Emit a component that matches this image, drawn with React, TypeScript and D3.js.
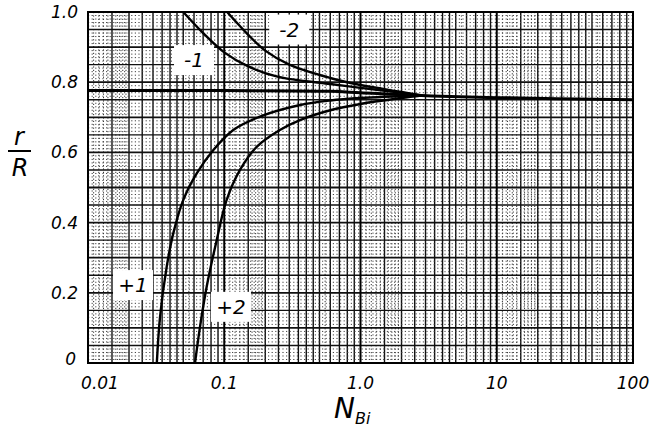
import React, { useRef, useEffect } from 'react';
import * as d3 from 'd3';

// N_Bi values on the x axis (log), r/R on the y axis
const xTicks = [0.01, 0.1, 1, 10, 100];
const xTickLabels = ['0.01', '0.1', '1.0', '10', '100'];
const yTicks = [0, 0.2, 0.4, 0.6, 0.8, 1.0];
const yTickLabels = ['0', '0.2', '0.4', '0.6', '0.8', '1.0'];

const flatCurve: [number, number][] = [
  [0.01, 0.776], [0.1, 0.776], [0.6, 0.774], [1.0, 0.77], [2.8, 0.762], [10, 0.756], [100, 0.75],
];
const minus1: [number, number][] = [
  [0.05, 1.0], [0.07, 0.94], [0.1, 0.885], [0.15, 0.845], [0.25, 0.815], [0.6, 0.795], [1.0, 0.784], [2.0, 0.77], [2.8, 0.762],
];
const minus2: [number, number][] = [
  [0.105, 1.0], [0.15, 0.935], [0.2, 0.89], [0.3, 0.85], [0.6, 0.812], [1.0, 0.792], [2.0, 0.772], [2.8, 0.762],
];
const plus1: [number, number][] = [
  [0.032, 0], [0.0338, 0.132], [0.0378, 0.274], [0.0423, 0.37], [0.05, 0.464], [0.0628, 0.54], [0.0832, 0.607],
  [0.1165, 0.664], [0.183, 0.702], [0.36, 0.735], [0.6, 0.748], [1.0, 0.755], [2.8, 0.762],
];
const plus2: [number, number][] = [
  [0.061, 0], [0.0664, 0.103], [0.0743, 0.217], [0.088, 0.35], [0.104, 0.464], [0.1305, 0.55], [0.173, 0.616],
  [0.256, 0.664], [0.36, 0.692], [0.6, 0.72], [1.0, 0.738], [2.0, 0.755], [2.8, 0.762],
];
const curveLabels = ['-1', '-2', '+1', '+2'];
const curveLabelPos: [number, number][] = [[0.06, 0.863], [0.3, 0.95], [0.0214, 0.222], [0.112, 0.16]];

function App() {
  const ref = useRef<SVGSVGElement>(null);

  useEffect(() => {
    const svg = d3.select(ref.current);
    svg.selectAll('*').remove();
    const margin = { top: 12, right: 25, bottom: 71, left: 88 };
    const width = 658 - margin.left - margin.right;
    const height = 434 - margin.top - margin.bottom;

    const x = d3.scaleLog().domain([0.01, 100]).range([0, width]);
    const y = d3.scaleLinear().domain([0, 1]).range([height, 0]);

    const g = svg.append('g').attr('transform', `translate(${margin.left},${margin.top})`);
    const grid = g.append('g');

    // graph paper: vertical lines
    const decades = [0.01, 0.1, 1, 10];
    const solidMult = [1.5, 2, 2.5, 3, 3.5, 4, 4.5, 5, 6, 7, 8, 9];
    const dotMult = [1.1, 1.2, 1.3, 1.4, 1.6, 1.7, 1.8, 1.9, 5.5];
    decades.forEach((d) => {
      dotMult.forEach((m) => {
        grid.append('line').attr('x1', x(d * m)).attr('x2', x(d * m)).attr('y1', 0).attr('y2', height)
          .attr('stroke', '#333').attr('stroke-width', 1).attr('stroke-dasharray', '1.2,2.2');
      });
      solidMult.forEach((m) => {
        grid.append('line').attr('x1', x(d * m)).attr('x2', x(d * m)).attr('y1', 0).attr('y2', height)
          .attr('stroke', '#111').attr('stroke-width', 1.4);
      });
    });

    // horizontal lines
    d3.range(0, 101).forEach((i) => {
      const v = i / 100;
      if (i % 5 === 0) {
        grid.append('line').attr('x1', 0).attr('x2', width).attr('y1', y(v)).attr('y2', y(v))
          .attr('stroke', '#111').attr('stroke-width', i % 10 === 0 ? 1.8 : 1.4);
      } else {
        grid.append('line').attr('x1', 0).attr('x2', width).attr('y1', y(v)).attr('y2', y(v))
          .attr('stroke', '#444').attr('stroke-width', 1).attr('stroke-dasharray', '1.2,2.4');
      }
    });

    // decade lines
    xTicks.forEach((t) => {
      grid.append('line').attr('x1', x(t)).attr('x2', x(t)).attr('y1', 0).attr('y2', height)
        .attr('stroke', '#000').attr('stroke-width', 2);
    });
    grid.append('rect').attr('width', width).attr('height', height)
      .attr('fill', 'none').attr('stroke', '#000').attr('stroke-width', 2);

    // curves
    const line = d3.line<[number, number]>()
      .x((d) => x(d[0]))
      .y((d) => y(d[1]))
      .curve(d3.curveCatmullRom.alpha(0.5));
    [flatCurve, minus1, minus2, plus1, plus2].forEach((c, i) => {
      g.append('path').attr('d', line(c)).attr('fill', 'none')
        .attr('stroke', '#000').attr('stroke-width', i === 0 ? 3 : 2.4);
    });

    // curve labels in white boxes
    curveLabels.forEach((lab, i) => {
      const [cx, cy] = curveLabelPos[i];
      const px = x(cx);
      const py = y(cy);
      g.append('rect').attr('x', px - 20).attr('y', py - 15).attr('width', 40).attr('height', 30)
        .attr('fill', '#fff');
      g.append('text').attr('x', px).attr('y', py + 7).attr('text-anchor', 'middle')
        .attr('font-family', 'DejaVu Sans').attr('font-style', 'italic').attr('font-size', 20)
        .attr('fill', '#000').text(lab);
    });

    // tick labels
    const tickFont = { family: 'DejaVu Sans', size: 17 };
    xTicks.forEach((t, i) => {
      g.append('text').attr('x', x(t) + (i === 0 ? 12 : 0)).attr('y', height + 26)
        .attr('text-anchor', 'middle').attr('font-family', tickFont.family)
        .attr('font-style', 'italic').attr('font-size', tickFont.size).text(xTickLabels[i]);
    });
    yTicks.forEach((t, i) => {
      g.append('text').attr('x', i === 0 ? -12 : -10).attr('y', y(t) + 6 - (i === 0 ? 4 : 0))
        .attr('text-anchor', 'end').attr('font-family', tickFont.family)
        .attr('font-style', 'italic').attr('font-size', tickFont.size).text(yTickLabels[i]);
    });

    // axis titles
    svg.append('text').attr('x', 19).attr('y', 145).attr('text-anchor', 'middle')
      .attr('font-family', 'DejaVu Sans').attr('font-style', 'italic').attr('font-size', 24).text('r');
    svg.append('line').attr('x1', 8).attr('x2', 31).attr('y1', 151).attr('y2', 151)
      .attr('stroke', '#000').attr('stroke-width', 2);
    svg.append('text').attr('x', 20).attr('y', 176).attr('text-anchor', 'middle')
      .attr('font-family', 'DejaVu Sans').attr('font-style', 'italic').attr('font-size', 24).text('R');

    const title = svg.append('text').attr('x', 334).attr('y', 418)
      .attr('font-family', 'DejaVu Sans').attr('font-style', 'italic');
    title.append('tspan').attr('font-size', 28).text('N');
    title.append('tspan').attr('font-size', 16).attr('dy', 6).text('Bi');
  }, []);

  return (
    <svg ref={ref} width={658} height={434}
      style={{ position: 'absolute', left: 0, top: 0, background: '#fff' }} />
  );
}

export default App;
